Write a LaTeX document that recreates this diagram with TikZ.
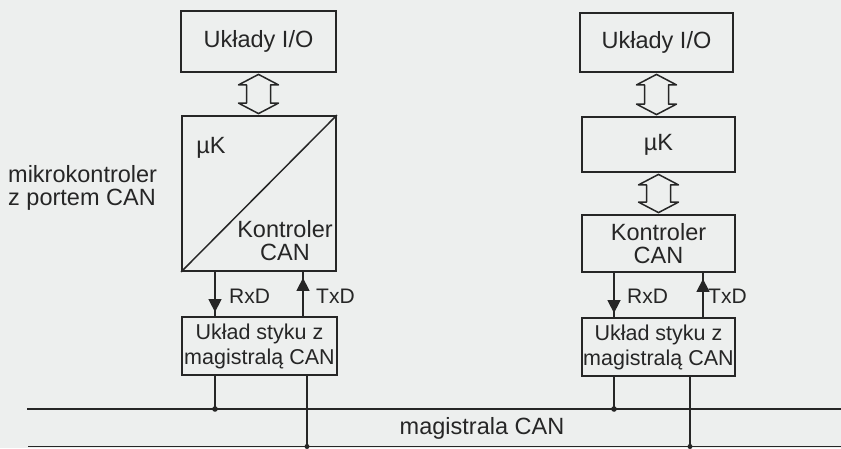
\documentclass[tikz,border=0pt]{standalone}
\usepackage{fontspec}
\setmainfont{Liberation Sans}
\usetikzlibrary{arrows.meta,calc}
\definecolor{bg}{HTML}{EDEFEE}
\definecolor{ink}{HTML}{262626}
\newcommand{\fsz}[2]{\fontsize{#1}{#2}\selectfont}
\newcommand{\hollowdbl}[2]{%
  \draw[dblarrow] let \p1=(#1.south), \p2=(#2.north) in
    (\x1,\y1-1.5pt) -- (\x1+20pt,\y1-12pt) -- (\x1+12pt,\y1-12pt) -- (\x1+12pt,\y2+12pt)
    -- (\x1+20pt,\y2+12pt) -- (\x1,\y2+1.5pt) -- (\x1-20pt,\y2+12pt) -- (\x1-12pt,\y2+12pt)
    -- (\x1-12pt,\y1-12pt) -- (\x1-20pt,\y1-12pt) -- cycle;}
\begin{document}
\begin{tikzpicture}[x=1pt,y=-1pt,
  box/.style={draw=ink,line width=1.8pt,inner sep=0pt,text=ink,align=center,
    font=\fsz{23.5}{23}},
  lbl/.style={text=ink,inner sep=0pt,font=\fsz{23.5}{23}},
  sig/.style={draw=ink,line width=1.5pt},
  sigarr/.style={draw=ink,line width=1.5pt,-{Triangle[length=13pt,width=13pt]}},
  busline/.style={draw=ink,line width=1.6pt},
  dblarrow/.style={draw=ink,line width=1.5pt,line join=round},
  dotmark/.style={fill=ink}]
\fill[bg] (0,0) rectangle (841,448);
\useasboundingbox (0,0) rectangle (841,448);

% left column
\node[box,minimum width=155pt,minimum height=61pt] (io1) at (258.5,41.5) {Układy I/O};
\node[box,minimum width=154pt,minimum height=155pt] (mk1) at (259,193.5) {};
\draw[ink,line width=1.5pt] (mk1.south west) -- (mk1.north east);
\node[lbl] (uk1) at (211,148) {µK};
\node[lbl,align=center,font=\fsz{23.5}{23}] (kc1) at (285,241) {Kontroler\\CAN};
\node[box,minimum width=155pt,minimum height=58pt,font=\fsz{21.5}{25}] (st1) at (259.5,346) {Układ styku z\\magistralą CAN};
\node[lbl,align=left,anchor=west] (mkl) at (8,187.5) {mikrokontroler\\z portem CAN};

% right column
\node[box,minimum width=153pt,minimum height=59pt] (io2) at (656.5,42.5) {Układy I/O};
\node[box,minimum width=153pt,minimum height=55pt] (uk2) at (658.5,144.5) {µK};
\node[box,minimum width=153pt,minimum height=57pt,font=\fsz{23.5}{23}] (kc2) at (658.5,243.5) {Kontroler\\CAN};
\node[box,minimum width=153pt,minimum height=58pt,font=\fsz{21.5}{25}] (st2) at (658.5,347) {Układ styku z\\magistralą CAN};

% hollow double arrows
\hollowdbl{io1}{mk1}
\hollowdbl{io2}{uk2}
\hollowdbl{uk2}{kc2}

% signal x positions
\coordinate (rx1) at (215,0);
\coordinate (tx1) at (303,0);
\coordinate (bb1) at (307,0);
\coordinate (rx2) at (614,0);
\coordinate (tx2) at (703,0);
\coordinate (bb2) at (690,0);

% bus
\coordinate (busTL) at (27,409);
\coordinate (busTR) at (841,409);
\coordinate (busBL) at (28,446.5);
\coordinate (busBR) at (841,446.5);
\draw[busline] (busTL) -- (busTR);
\draw[busline] (busBL) -- (busBR);
\node[lbl] (buslbl) at (482,428) {magistrala CAN};

% RxD / TxD left
\draw[sig] (mk1.south -| rx1) -- (st1.north -| rx1);
\draw[sigarr] (mk1.south -| rx1) -- ($(st1.north -| rx1)+(0,-4)$);
\draw[sig] (st1.north -| tx1) -- (mk1.south -| tx1);
\draw[sigarr] (st1.north -| tx1) -- ($(mk1.south -| tx1)+(0,6)$);
\node[lbl,anchor=west,font=\fsz{21}{22}] (rxl1) at (229,296) {RxD};
\node[lbl,anchor=west,font=\fsz{21}{22}] (txl1) at (316,296) {TxD};

% RxD / TxD right
\draw[sig] (kc2.south -| rx2) -- (st2.north -| rx2);
\draw[sigarr] (kc2.south -| rx2) -- ($(st2.north -| rx2)+(0,-4)$);
\draw[sig] (st2.north -| tx2) -- (kc2.south -| tx2);
\draw[sigarr] (st2.north -| tx2) -- ($(kc2.south -| tx2)+(0,6)$);
\node[lbl,anchor=west,font=\fsz{21}{22}] (rxl2) at (627,296) {RxD};
\node[lbl,anchor=west,font=\fsz{21}{22}] (txl2) at (708,296) {TxD};

% connections to bus
\draw[sig] (st1.south -| rx1) -- (rx1 |- busTL);
\fill[dotmark] (rx1 |- busTL) circle (2.8);
\draw[sig] (st1.south -| bb1) -- (bb1 |- busBL);
\fill[dotmark] (bb1 |- busBL) circle (2.5);
\draw[sig] (st2.south -| rx2) -- (rx2 |- busTL);
\fill[dotmark] (rx2 |- busTL) circle (2.8);
\draw[sig] (st2.south -| bb2) -- (bb2 |- busBL);
\fill[dotmark] (bb2 |- busBL) circle (2.5);
\end{tikzpicture}
\end{document}
